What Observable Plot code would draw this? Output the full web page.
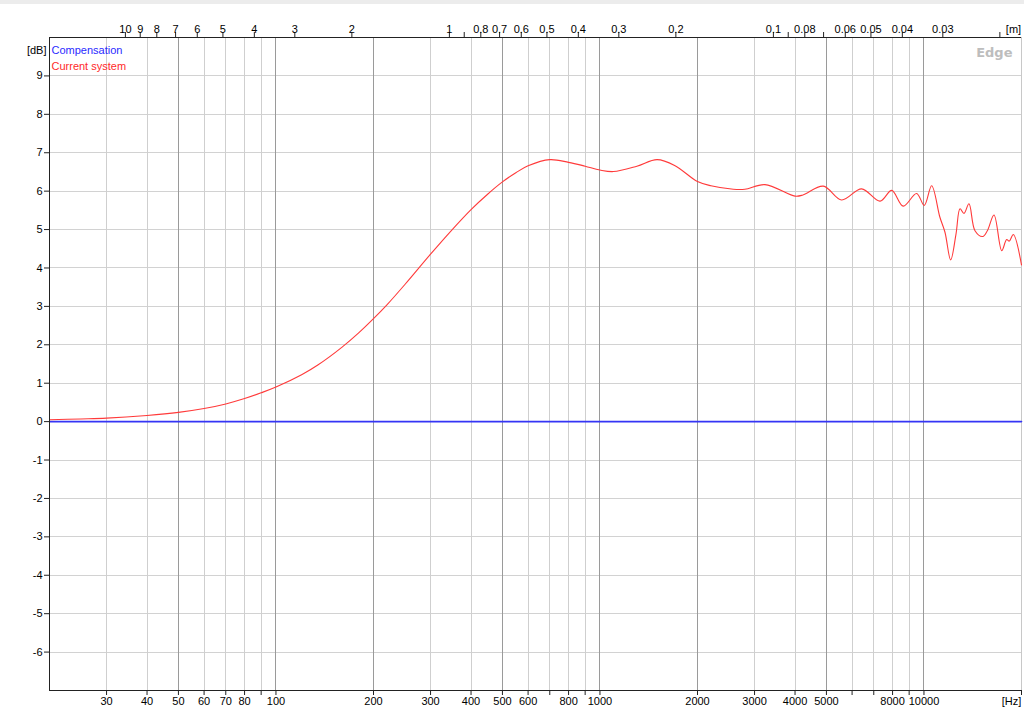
<!DOCTYPE html>
<html>
<head>
<meta charset="utf-8">
<script src="https://cdn.jsdelivr.net/npm/d3@7"></script>
<script src="https://cdn.jsdelivr.net/npm/@observablehq/plot@0.6"></script>
<style>
  html, body { margin: 0; padding: 0; background: #fff; }
  #wrap { position: relative; width: 1024px; height: 719px; overflow: hidden; }
  #strip { position: absolute; left: 0; top: 0; width: 1024px; height: 4px; background: #ececec; }
  #chart { position: absolute; left: 0; top: 0; }
</style>
</head>
<body>
<div id="wrap"><div id="chart"></div><div id="strip"></div></div>
<script>
// ---- data ----
const freqHz = [20, 25, 30, 40, 50, 60, 70, 80, 90, 100, 120, 135, 160, 180, 200, 220, 250, 300, 350, 400, 450, 500, 550, 600, 700, 800, 900, 1000, 1100, 1300, 1500, 1700, 2000, 2200, 2580, 2800, 3230, 4000, 4230, 4890, 5570, 6420, 7320, 7950, 8630, 9490, 10020, 10560, 11200, 11610, 12090, 12560, 12920, 13290, 13770, 14370, 15180, 15690, 16450, 17380, 18000, 18340, 18870, 20000];
const currentDb = [0.05, 0.07, 0.09, 0.16, 0.24, 0.34, 0.46, 0.6, 0.75, 0.9, 1.22, 1.48, 1.94, 2.31, 2.68, 3.04, 3.57, 4.36, 5.0, 5.52, 5.92, 6.24, 6.48, 6.66, 6.82, 6.75, 6.65, 6.55, 6.51, 6.65, 6.82, 6.67, 6.25, 6.14, 6.05, 6.05, 6.17, 5.87, 5.9, 6.13, 5.77, 6.06, 5.74, 6.02, 5.61, 5.94, 5.63, 6.14, 5.32, 4.93, 4.21, 4.89, 5.54, 5.42, 5.67, 4.97, 4.82, 4.97, 5.38, 4.45, 4.74, 4.7, 4.87, 4.08];
const compFreqHz = [20, 20000];
const compDb = [0, 0];

const yTicks = [-6, -5, -4, -3, -2, -1, 0, 1, 2, 3, 4, 5, 6, 7, 8, 9];
const bottomTicks = [30, 40, 50, 60, 70, 80, 90, 100, 200, 300, 400, 500, 600, 700, 800, 900, 1000, 2000, 3000, 4000, 5000, 6000, 7000, 8000, 9000, 10000, 20000];
const bottomLabels = [30, 40, 50, 60, 70, 80, 100, 200, 300, 400, 500, 600, 800, 1000, 2000, 3000, 4000, 5000, 8000, 10000];
const majorGrid = [50, 100, 200, 500, 1000, 2000, 5000, 10000];
const minorGrid = [30, 40, 60, 70, 80, 90, 300, 400, 600, 700, 800, 900, 3000, 4000, 6000, 7000, 8000, 9000];
const wavelengthTicks = [10, 9, 8, 7, 6, 5, 4, 3, 2, 1, 0.9, 0.8, 0.7, 0.6, 0.5, 0.4, 0.3, 0.2, 0.1, 0.09, 0.08, 0.07, 0.06, 0.05, 0.04, 0.03, 0.02];
const wavelengthLabels = ["10", "9", "8", "7", "6", "5", "4", "3", "2", "1", "0.8", "0.7", "0.6", "0.5", "0.4", "0.3", "0.2", "0.1", "0.08", "0.06", "0.05", "0.04", "0.03"];
const speedOfSound = 343;

// ---- build ----
const current = freqHz.map((f, i) => ({f, db: currentDb[i]}));
const comp = compFreqHz.map((f, i) => ({f, db: compDb[i]}));
const topFreqs = wavelengthTicks.map(w => speedOfSound / w);
const topLabelData = wavelengthLabels.map(s => ({f: speedOfSound / Number(s), s}));
const font = "'Liberation Sans', Arial, sans-serif";
const crisp = {shapeRendering: "crispEdges"};

const chart = Plot.plot({
  width: 1024,
  height: 719,
  marginLeft: 49,
  marginRight: 3,
  marginTop: 37,
  marginBottom: 29,
  style: {fontFamily: font, fontSize: "11px", background: "transparent", color: "#000", overflow: "visible"},
  x: {type: "log", domain: [20, 20000], axis: null},
  y: {domain: [-7, 10], axis: null},
  marks: [
    Plot.ruleY(yTicks, {stroke: "#d2d2d2", strokeWidth: 1, ...crisp}),
    Plot.ruleX(minorGrid, {stroke: "#cfcfcf", strokeWidth: 1, ...crisp}),
    Plot.ruleX(majorGrid, {stroke: "#9a9a9a", strokeWidth: 1, ...crisp}),
    Plot.ruleX([20000], {stroke: "#c8c8c8", ...crisp}),
    Plot.line(comp, {x: "f", y: "db", stroke: "#3535f5", strokeWidth: 1.6}),
    Plot.line(current, {x: "f", y: "db", stroke: "#ff3a3a", strokeWidth: 1.1, curve: "catmull-rom"}),
    Plot.ruleX([20], {stroke: "#222", ...crisp}),
    Plot.ruleY([-7], {stroke: "#222", ...crisp}),
    Plot.ruleY([10], {stroke: "#222", ...crisp}),
    Plot.axisY(yTicks, {anchor: "left", label: null, tickSize: 5, tickPadding: 2, tickFormat: d => String(d), fontSize: 11, stroke: "#222"}),
    Plot.axisX(bottomTicks, {anchor: "bottom", label: null, tickSize: 5, tickFormat: () => "", stroke: "#222"}),
    Plot.text(bottomLabels, {x: d => d, text: d => String(d), frameAnchor: "bottom", dy: 14, fill: "#000", fontSize: 11}),
    Plot.axisX(topFreqs, {anchor: "top", label: null, tickSize: 6, tickFormat: () => "", stroke: "#222"}),
    Plot.text(topLabelData, {x: "f", text: "s", frameAnchor: "top", dy: -12, fill: "#000", fontSize: 11}),
    Plot.text(["[dB]"], {frameAnchor: "top-left", dx: -3, dy: 9, textAnchor: "end", fill: "#000", fontSize: 11}),
    Plot.text(["Compensation"], {frameAnchor: "top-left", dx: 2, dy: 9, textAnchor: "start", fill: "#2a2aff", fontSize: 11}),
    Plot.text(["Current system"], {frameAnchor: "top-left", dx: 2, dy: 25, textAnchor: "start", fill: "#ff2a2a", fontSize: 11}),
    Plot.text(["[m]"], {frameAnchor: "top-right", dx: -8, dy: -12, textAnchor: "middle", fill: "#000", fontSize: 11}),
    Plot.text(["[Hz]"], {frameAnchor: "bottom-right", dx: -10, dy: 14, textAnchor: "middle", fill: "#000", fontSize: 11}),
    Plot.text(["Edge"], {frameAnchor: "top-right", dx: -9, dy: 10, textAnchor: "end", fill: "#bdbdbd", fontSize: 13, fontWeight: "bold", fontFamily: "'DejaVu Sans', sans-serif"})
  ]
});
document.getElementById("chart").appendChild(chart);
</script>
</body>
</html>
